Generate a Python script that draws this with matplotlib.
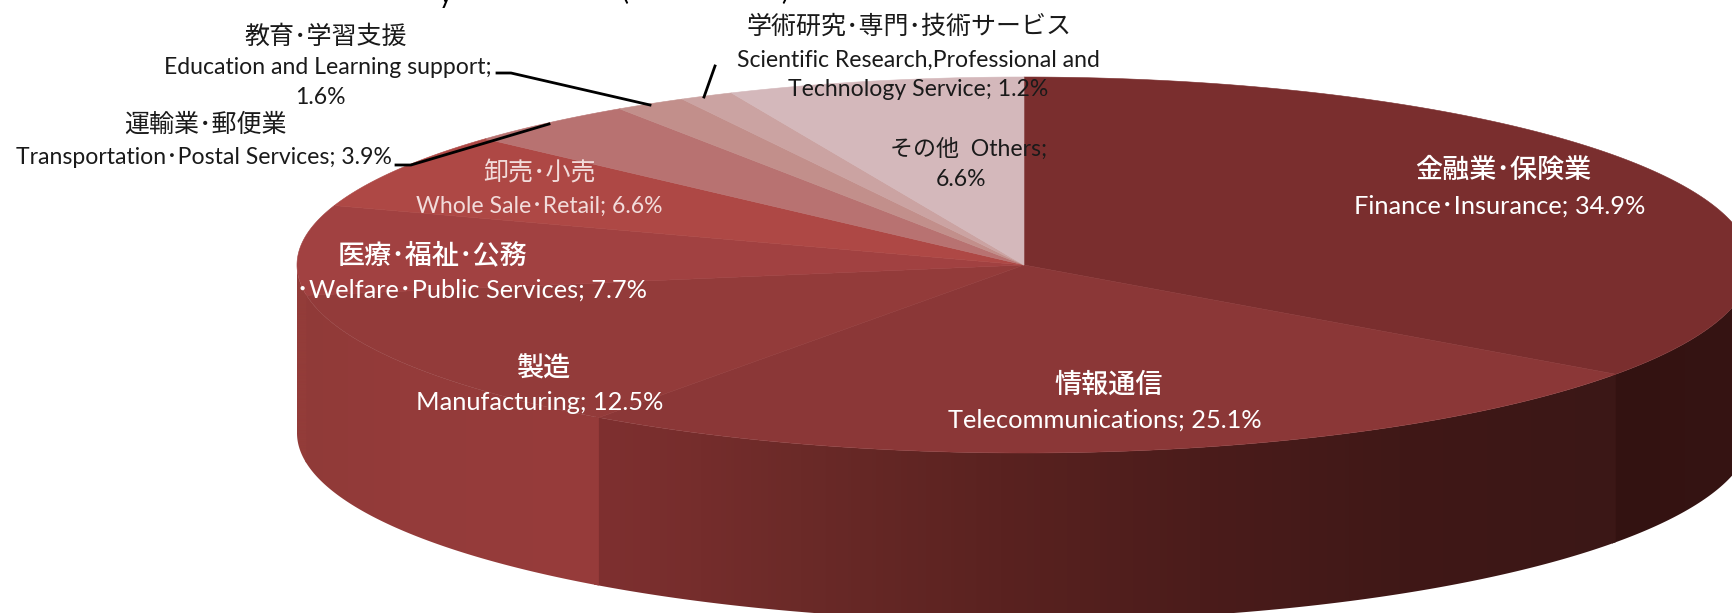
"""
3D style pie of share by industry, drawn by hand from the values.
"""

import numpy as np
from matplotlib import pyplot as plt
from matplotlib.colors import to_rgb
from matplotlib.patches import Polygon

plt.rcParams['font.family'] = ['Lato', 'Noto Sans CJK JP', 'DejaVu Sans']

names_ja = ['金融業･保険業', '情報通信', '製造', '医療･福祉･公務', '卸売･小売',
            '運輸業･郵便業', '教育･学習支援', '学術研究･専門･技術サービス', 'その他']
names_en = ['Finance･Insurance', 'Telecommunications', 'Manufacturing',
            'Medical･Welfare･Public Services', 'Whole Sale･Retail',
            'Transportation･Postal Services', 'Education and Learning support',
            'Scientific Research,Professional and\nTechnology Service', 'Others']
shares = [34.9, 25.1, 12.5, 7.7, 6.6, 3.9, 1.6, 1.2, 6.6]
top_colors = ['#7a2e2e', '#8b3737', '#933b3a', '#a14141', '#ae4845',
              '#b87271', '#c28f8b', '#cba3a2', '#d4b8bb']

# pie geometry in pixels
cx, cy = 1024, 265
rx, ry = 727, 188
depth = 168

# side wall shading, x stop and colour for each slice that shows in front
side_stops = {
    0: ([1610, 1760], ['#331211', '#361413']),
    1: ([598, 800, 1000, 1200, 1400, 1620],
        ['#7f3030', '#6b2a28', '#5a2220', '#4b1c1b', '#401817', '#3b1716']),
    2: ([297, 400, 600], ['#903a38', '#943b3a', '#973c3b']),
    3: ([290, 310], ['#933c39', '#933c39']),
}


def ellipsePoints(a0, a1, n=200):
    """Points on the top rim, angles in degrees clockwise from 12 o'clock."""
    t = np.radians(np.linspace(a0, a1, n))
    return cx + rx*np.sin(t), cy - ry*np.cos(t)


def drawSide(ax, a0, a1, stops):
    # only the front half of the rim has a visible wall
    # run a bit past the end so no seam shows under the next slice
    a0, a1 = max(a0, 90), min(a1 + 0.5, 270)
    if a1 <= a0:
        return
    x, y = ellipsePoints(a0, a1, 200)
    outline = np.column_stack([np.r_[x, x[::-1]], np.r_[y, y[::-1]+depth]])
    xs = np.linspace(x.min(), x.max(), 300)
    stop_rgb = np.array([to_rgb(c) for c in stops[1]])
    grad = np.stack([np.interp(xs, stops[0], stop_rgb[:, k]) for k in range(3)], axis=-1)[None, :, :]
    im = ax.imshow(grad, extent=[x.min(), x.max(), y.max()+depth, y.min()],
                   aspect='auto', interpolation='bilinear')
    im.set_clip_path(Polygon(outline, transform=ax.transData))


fig = plt.figure(figsize=(17.32, 6.13), dpi=100)
ax = fig.add_axes([0, 0, 1, 1])
ax.axis('off')

edges = np.concatenate([[0], np.cumsum(shares)]) / sum(shares) * 360

for i in side_stops:
    drawSide(ax, edges[i], edges[i+1], side_stops[i])

ax.set_xlim(0, 1732)
ax.set_ylim(613, 0)

for i, c in enumerate(top_colors):
    x, y = ellipsePoints(edges[i], edges[i+1])
    ax.fill(np.r_[cx, x], np.r_[cy, y], facecolor=c, edgecolor=c, linewidth=0.4)

WHITE = '#ffffff'
PINK = '#f2dcdb'
DARK = '#1a1a1a'
fs_big = 18.3
fs = 16.6


def label(i, xj, yj, xe, ye, color, weight='normal', fsj=18, fse=fs):
    ax.text(xj, yj, names_ja[i], color=color, fontsize=fsj, fontweight=weight,
            ha='center', va='center')
    ax.text(xe, ye, '%s; %.1f%%' % (names_en[i], shares[i]), color=color, fontsize=fse,
            ha='center', va='center', linespacing=1.45)


label(0, 1503, 170, 1500, 206, WHITE, 'medium', 19.5, fs_big)
label(1, 1109, 385, 1105, 420, WHITE, 'medium', 19.5, fs_big)
label(2, 543, 369, 540, 402, WHITE, 'medium', 19.5, fs_big)
label(3, 432, 255, 427, 290, WHITE, 'medium', 19.5, fs_big)
label(4, 539, 172, 539, 206, PINK)
label(5, 205, 124, 204, 158, DARK)
label(7, 909, 26, 918, 75, DARK)

ax.text(326, 36, names_ja[6], color=DARK, fontsize=18, ha='center', va='center')
ax.text(328, 67, names_en[6] + ';', color=DARK, fontsize=fs, ha='center', va='center')
ax.text(320, 98, '%.1f%%' % shares[6], color=DARK, fontsize=fs, ha='center', va='center')

ax.text(969, 149, '%s  %s;' % (names_ja[8], names_en[8]), color=DARK, fontsize=fs, ha='center', va='center')
ax.text(961, 179, '%.1f%%' % shares[8], color=DARK, fontsize=fs, ha='center', va='center')

# leader lines
ax.plot([497, 511, 650], [73, 73, 105], color='black', lw=2)
ax.plot([396, 411, 549], [165, 165, 124], color='black', lw=2)
ax.plot([715, 704], [66, 97], color='black', lw=2)

# what is left of the title, cut off by the top edge
ax.text(446, -4, 'y', color='black', fontsize=19, ha='center', va='center', clip_on=True)
ax.text(625, -8, '(', color='black', fontsize=19, ha='center', va='center', clip_on=True)
ax.text(785, -8, ')', color='black', fontsize=19, ha='center', va='center', clip_on=True)

plt.savefig('out.png', dpi=100)
